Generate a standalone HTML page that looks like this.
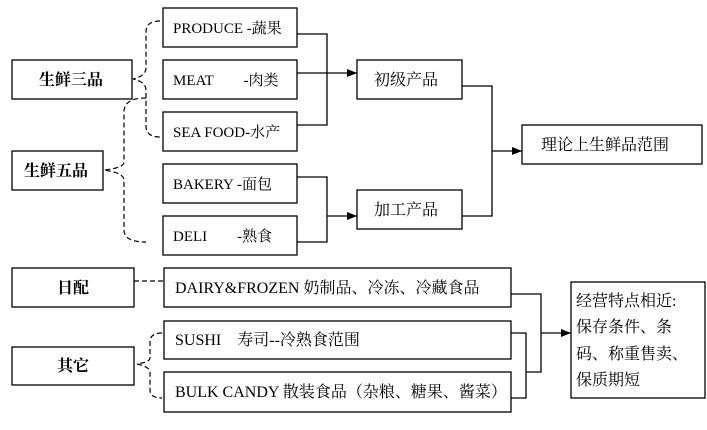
<!DOCTYPE html>
<html><head><meta charset="utf-8"><style>
html,body{margin:0;padding:0;background:#fff}
text{font-family:"Liberation Serif","Noto Serif CJK SC",serif;font-size:15px;fill:#000}
.l{font-size:16px}
.b{font-family:"Liberation Serif","Noto Serif CJK SC",serif;font-weight:bold;font-size:16px}
</style></head><body>
<svg width="707" height="425" viewBox="0 0 707 425" xmlns="http://www.w3.org/2000/svg">
<defs><marker id="a" markerWidth="10" markerHeight="8" refX="10" refY="4" orient="auto" markerUnits="userSpaceOnUse"><path d="M0,0 L10,4 L0,8 z" fill="#000"/></marker></defs>
<g fill="none" stroke="#000" stroke-width="1.3">
<rect x="12" y="60" width="120" height="39"/>
<rect x="12" y="151" width="91" height="39"/>
<rect x="163" y="8" width="134" height="39"/>
<rect x="163" y="60" width="134" height="39"/>
<rect x="163" y="112" width="134" height="39"/>
<rect x="163" y="164" width="134" height="39"/>
<rect x="163" y="216" width="134" height="39"/>
<rect x="357" y="60" width="105" height="39"/>
<rect x="357" y="190" width="105" height="39"/>
<rect x="522" y="125" width="180" height="39"/>
<rect x="12" y="268" width="122" height="39"/>
<rect x="12" y="347" width="122" height="38"/>
<rect x="164" y="268" width="347" height="39"/>
<rect x="164" y="321" width="347" height="38"/>
<rect x="164" y="372" width="347" height="40"/>
<rect x="571" y="282" width="134" height="116"/>
<path d="M297,34 H327 V125 H297"/>
<path d="M297,73 H357" marker-end="url(#a)"/>
<path d="M297,177 H327 V242 H297"/>
<path d="M327,216 H357" marker-end="url(#a)"/>
<path d="M462,86 H492 V216 H462"/>
<path d="M492,151 H522" marker-end="url(#a)"/>
<path d="M511,294 H541 V372 H526"/>
<path d="M511,333 H526 V398 H511"/>
<path d="M541,333 H571" marker-end="url(#a)"/>
</g>
<g fill="none" stroke="#000" stroke-width="1.2" stroke-dasharray="5,3">
<path d="M160,21 Q146,21 146,32 V68 Q146,76 133,79 Q146,82 146,90 V126 Q146,137 160,137"/>
<path d="M146,98 Q124,98 124,112 V162 Q124,168 104,170 Q124,173 124,180 V230 Q124,242 146,242"/>
<path d="M134,281 H163"/>
<path d="M162,333 Q150,333 150,342 V358 Q150,362 137,364 Q150,367 150,372 V390 Q150,398 162,398"/>
</g>
<text x="173" y="33">PRODUCE -蔬果</text>
<text x="173" y="85">MEAT　　-肉类</text>
<text x="173" y="137">SEA FOOD-水产</text>
<text x="173" y="189">BAKERY -面包</text>
<text x="173" y="241">DELI　　-熟食</text>
<text class="l" x="374" y="85">初级产品</text>
<text class="l" x="374" y="215">加工产品</text>
<text class="l" x="541" y="150">理论上生鲜品范围</text>
<text class="l" x="175" y="293">DAIRY&amp;FROZEN 奶制品、冷冻、冷藏食品</text>
<text class="l" x="175" y="345">SUSHI　寿司--冷熟食范围</text>
<text class="l" x="175" y="397">BULK CANDY 散装食品（杂粮、糖果、酱菜）</text>
<text class="l" x="576" y="306">经营特点相近:</text>
<text class="l" x="576" y="332">保存条件、条</text>
<text class="l" x="576" y="359">码、称重售卖、</text>
<text class="l" x="576" y="385">保质期短</text>
<text class="b" x="39" y="85">生鲜三品</text>
<text class="b" x="24" y="176">生鲜五品</text>
<text class="b" x="57" y="293">日配</text>
<text class="b" x="57" y="371">其它</text>
</svg>
</body></html>
